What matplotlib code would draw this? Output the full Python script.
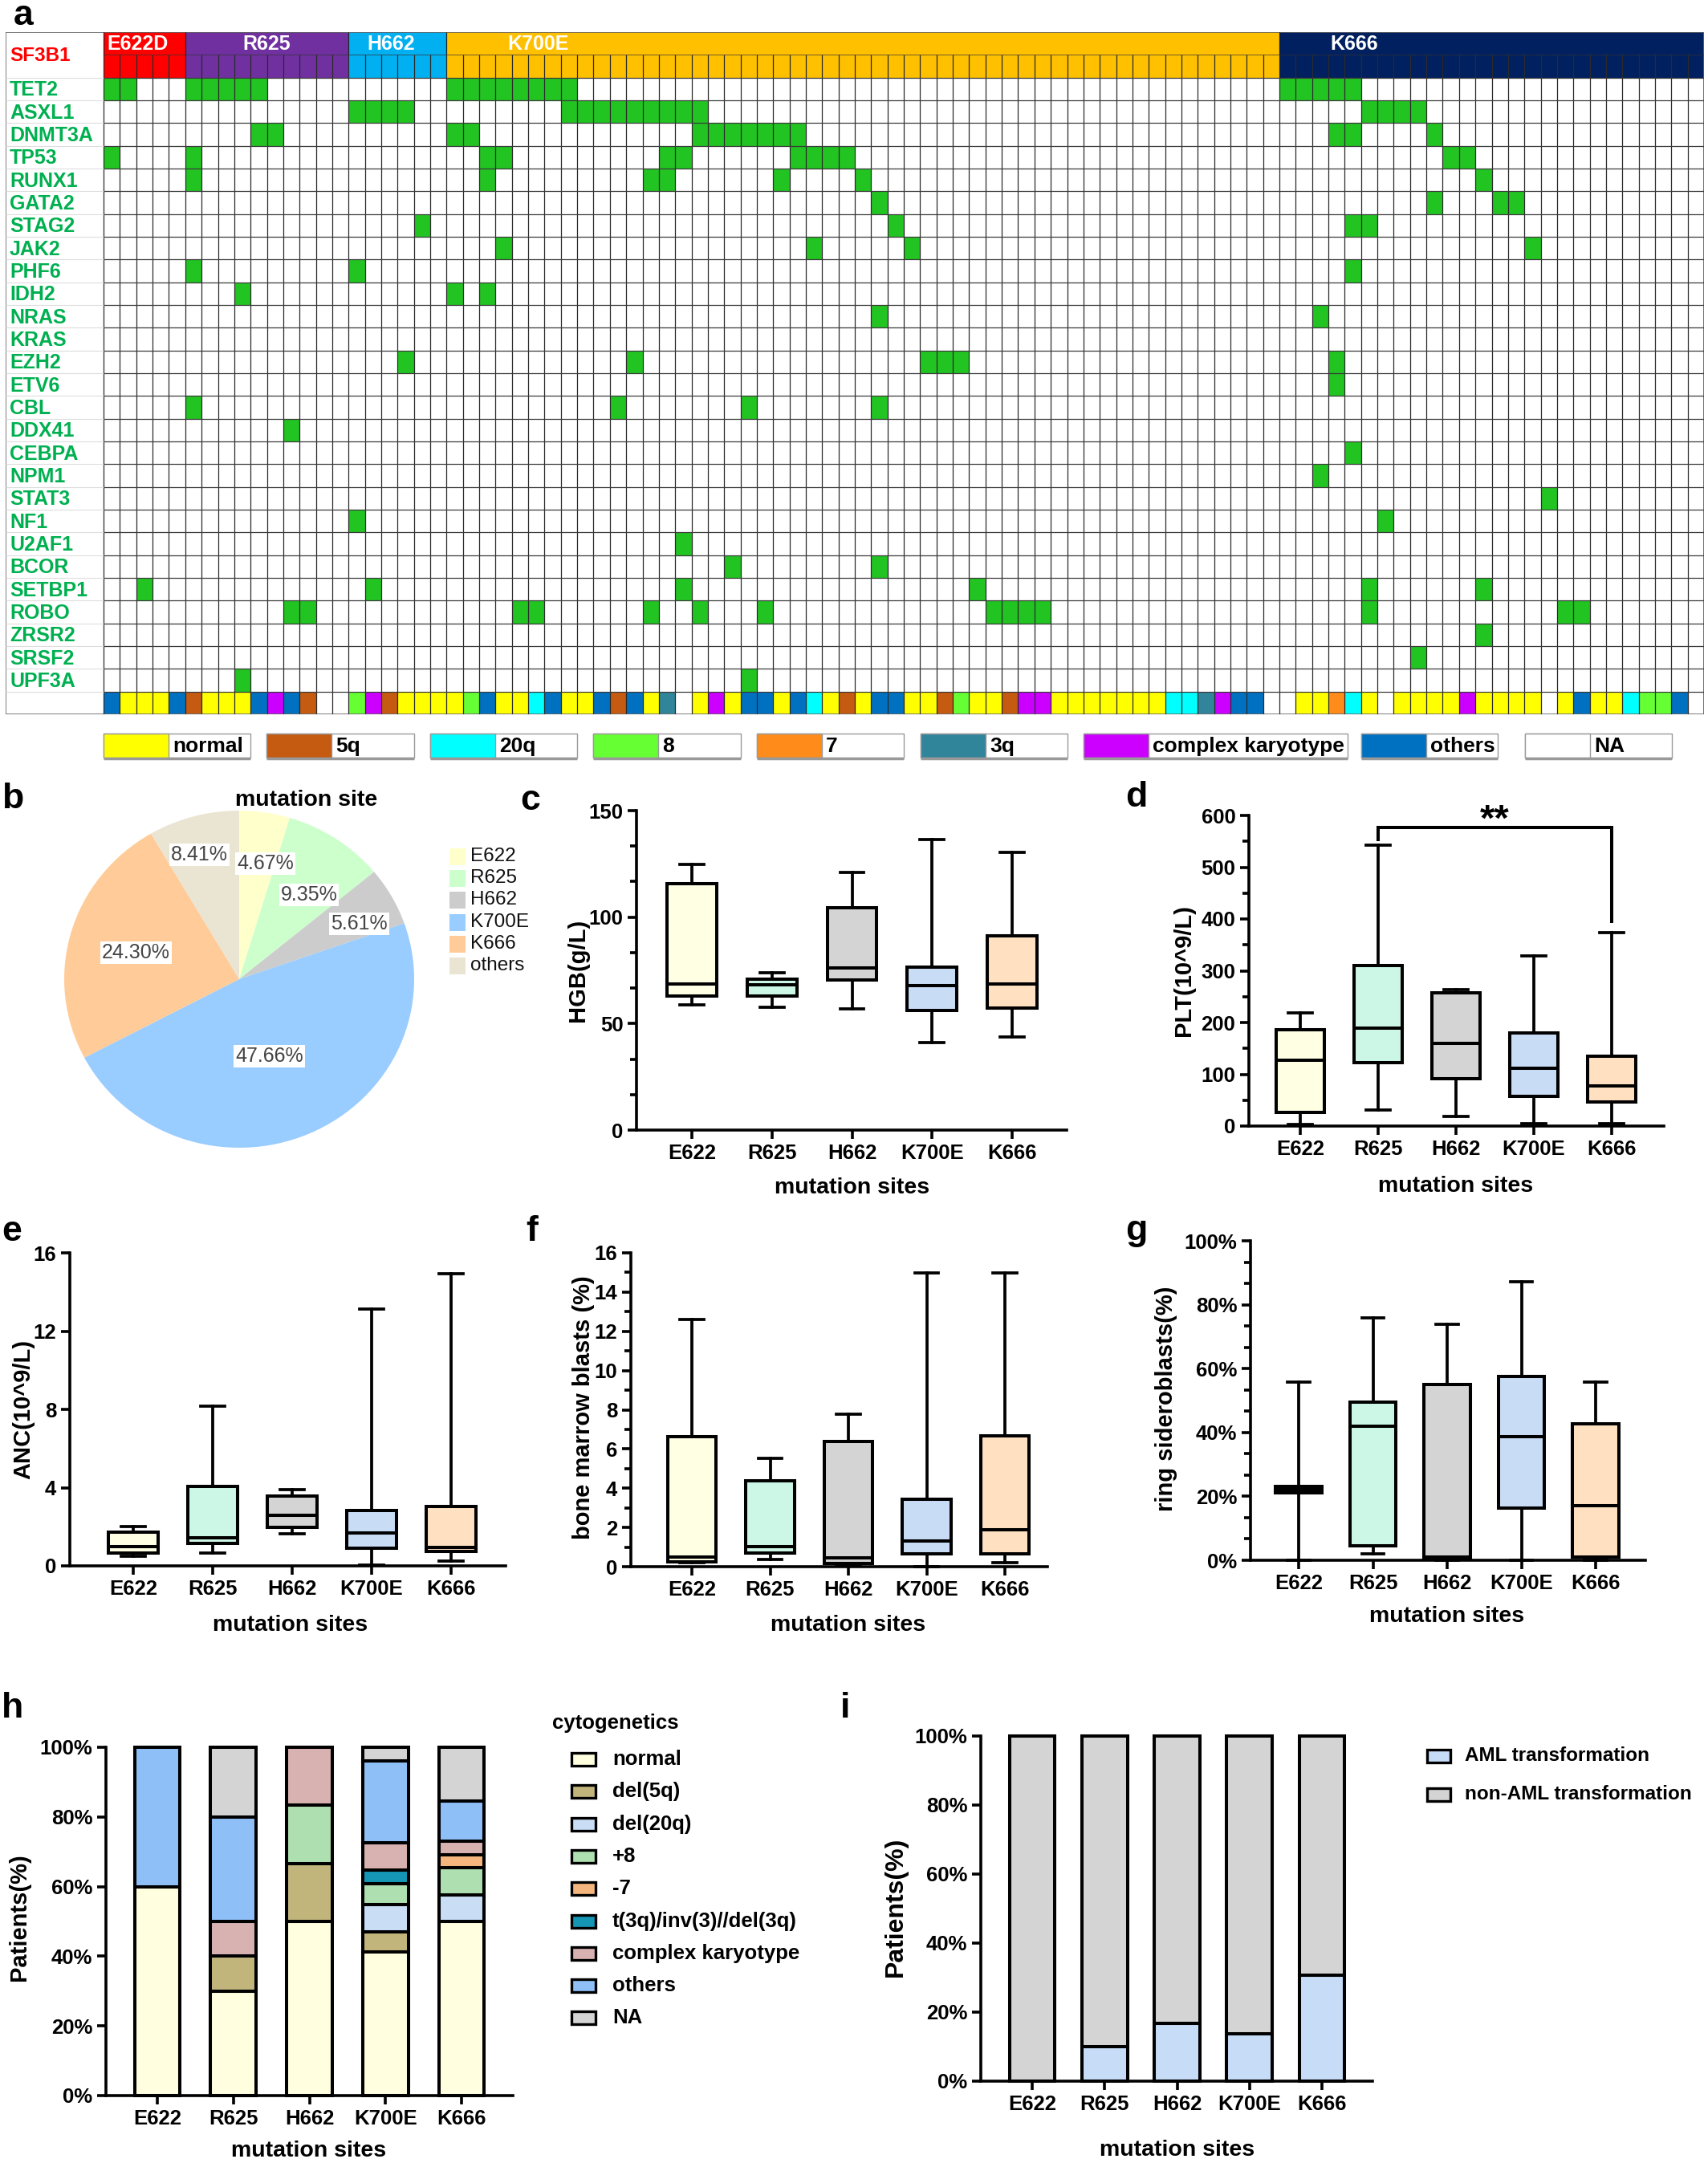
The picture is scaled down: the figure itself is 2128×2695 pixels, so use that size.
import matplotlib
matplotlib.use('Agg')
import matplotlib.pyplot as plt
from matplotlib.patches import Rectangle
from matplotlib.ticker import MultipleLocator, AutoMinorLocator, FuncFormatter
import numpy as np

plt.rcParams['font.family'] = ['Liberation Sans', 'DejaVu Sans']
plt.rcParams['font.weight'] = 'bold'
plt.rcParams['axes.labelweight'] = 'bold'

# ------------------------------------------------------------------ data
groups = ['E622D', 'R625', 'H662', 'K700E', 'K666']
group_sizes = [5, 10, 6, 51, 26]
group_colors = ['#FF0000', '#7030A0', '#00B0F0', '#FFC000', '#002060']
group_label_col = [2.1, 10.0, 17.6, 26.6, 76.6]

genes = ['TET2', 'ASXL1', 'DNMT3A', 'TP53', 'RUNX1', 'GATA2', 'STAG2', 'JAK2',
         'PHF6', 'IDH2', 'NRAS', 'KRAS', 'EZH2', 'ETV6', 'CBL', 'DDX41', 'CEBPA',
         'NPM1', 'STAT3', 'NF1', 'U2AF1', 'BCOR', 'SETBP1', 'ROBO', 'ZRSR2',
         'SRSF2', 'UPF3A']

mutated_patients = {
    'TET2': [0, 1, 5, 6, 7, 8, 9, 21, 22, 23, 24, 25, 26, 27, 28, 72, 73, 74, 75, 76],
    'ASXL1': [15, 16, 17, 18, 28, 29, 30, 31, 32, 33, 34, 35, 36, 77, 78, 79, 80],
    'DNMT3A': [9, 10, 21, 22, 36, 37, 38, 39, 40, 41, 42, 75, 76, 81],
    'TP53': [0, 5, 23, 24, 34, 35, 42, 43, 44, 45, 82, 83],
    'RUNX1': [5, 23, 33, 34, 41, 46, 84],
    'GATA2': [47, 81, 85, 86],
    'STAG2': [19, 48, 76, 77],
    'JAK2': [24, 43, 49, 87],
    'PHF6': [5, 15, 76],
    'IDH2': [8, 21, 23],
    'NRAS': [47, 74],
    'KRAS': [],
    'EZH2': [18, 32, 50, 51, 52, 75],
    'ETV6': [75],
    'CBL': [5, 31, 39, 47],
    'DDX41': [11],
    'CEBPA': [76],
    'NPM1': [74],
    'STAT3': [88],
    'NF1': [15, 78],
    'U2AF1': [35],
    'BCOR': [38, 47],
    'SETBP1': [2, 16, 35, 53, 77, 84],
    'ROBO': [11, 12, 25, 26, 33, 36, 40, 54, 55, 56, 57, 77, 89, 90],
    'ZRSR2': [84],
    'SRSF2': [80],
    'UPF3A': [8, 39],
}

karyotype = [
    # E622D
    'others', 'normal', 'normal', 'normal', 'others',
    # R625
    '5q', 'normal', 'normal', 'normal', 'others', 'complex', 'others', '5q', 'NA', 'NA',
    # H662
    '8', 'complex', '5q', 'normal', 'normal', 'normal',
    # K700E
    'normal', '8', 'others', 'normal', 'normal', '20q', 'others', 'normal', 'normal', 'others',
    '5q', 'others', 'normal', '3q', 'NA', 'normal', 'complex', 'normal', 'others', 'others',
    'normal', 'others', '20q', 'normal', '5q', 'normal', 'others', 'others', 'normal', 'normal',
    '5q', '8', 'normal', 'normal', '5q', 'complex', 'complex', 'normal', 'normal', 'normal',
    'normal', 'normal', 'normal', 'normal', '20q', '20q', '3q', 'complex', 'others', 'others',
    'NA',
    # K666
    'NA', 'normal', 'normal', '7', '20q', 'normal', 'NA', 'normal', 'normal', 'normal',
    'normal', 'complex', 'normal', 'normal', 'normal', 'normal', 'NA', 'normal', 'others', 'normal',
    'normal', '20q', '8', '8', 'others', 'NA',
]
karyo_codes = ['normal', '5q', '20q', '8', '7', '3q', 'complex', 'others', 'NA']
karyo_legend = ['normal', '5q', '20q', '8', '7', '3q', 'complex karyotype', 'others', 'NA']
karyo_colors = ['#FFFF00', '#C55A11', '#00FFFF', '#66FF33', '#FF8C1A', '#31859B',
                '#CC00FF', '#0070C0', '#FFFFFF']

pie_labels = ['E622', 'R625', 'H662', 'K700E', 'K666', 'others']
pie_pct = [4.67, 9.35, 5.61, 47.66, 24.30, 8.41]
pie_colors = ['#FFFFCC', '#CCFFCC', '#CCCCCC', '#99CCFF', '#FFCC99', '#EAE4D3']

sites = ['E622', 'R625', 'H662', 'K700E', 'K666']
site_colors = ['#FFFFE3', '#CCF7E6', '#D4D4D4', '#C8DCF6', '#FFE1C2']

hgb_lo = [58.8, 57.8, 56.9, 41.0, 43.7]
hgb_q1 = [63.0, 63.1, 70.6, 56.1, 57.4]
hgb_med = [68.6, 68.2, 76.0, 67.9, 68.6]
hgb_q3 = [115.7, 71.0, 104.3, 76.4, 91.1]
hgb_hi = [124.7, 73.9, 120.8, 136.5, 130.5]

plt_lo = [3.0, 30.5, 18.3, 4.4, 4.4]
plt_q1 = [26.6, 123.0, 91.5, 58.0, 47.0]
plt_med = [127.5, 188.5, 160.0, 111.0, 77.6]
plt_q3 = [186.0, 310.5, 258.0, 180.0, 135.0]
plt_hi = [219.0, 543.0, 263.0, 328.0, 373.0]

anc_lo = [0.50, 0.65, 1.64, 0.05, 0.25]
anc_q1 = [0.65, 1.16, 1.97, 0.91, 0.73]
anc_med = [0.98, 1.42, 2.60, 1.67, 0.94]
anc_q3 = [1.72, 4.07, 3.58, 2.82, 3.04]
anc_hi = [2.01, 8.16, 3.89, 13.12, 14.93]

bm_lo = [0.20, 0.37, 0.05, 0.0, 0.22]
bm_q1 = [0.25, 0.69, 0.15, 0.66, 0.66]
bm_med = [0.48, 1.02, 0.44, 1.32, 1.87]
bm_q3 = [6.63, 4.39, 6.37, 3.44, 6.66]
bm_hi = [12.59, 5.52, 7.79, 14.98, 14.98]

rs_lo = [0.0, 2.0, 0.0, 0.0, 0.0]
rs_q1 = [21.0, 4.5, 0.5, 16.3, 0.9]
rs_med = [22.0, 41.9, 1.0, 38.8, 17.0]
rs_q3 = [23.0, 49.6, 54.9, 57.5, 42.8]
rs_hi = [55.8, 75.9, 73.8, 87.1, 55.8]

cyto_labels = ['normal', 'del(5q)', 'del(20q)', '+8', '-7', 't(3q)/inv(3)//del(3q)',
               'complex karyotype', 'others', 'NA']
cyto_colors = ['#FFFFE0', '#C2B57C', '#C9DDF5', '#AEDFB0', '#F4B67E', '#1596B4',
               '#D8B1B1', '#8FBFF7', '#D4D4D4']
normal_pct = [60.0, 30.0, 50.0, 41.2, 50.0]
del5q_pct = [0.0, 10.0, 16.7, 5.9, 0.0]
del20q_pct = [0.0, 0.0, 0.0, 7.8, 7.7]
plus8_pct = [0.0, 0.0, 16.7, 5.9, 7.7]
minus7_pct = [0.0, 0.0, 0.0, 0.0, 3.8]
t3q_pct = [0.0, 0.0, 0.0, 3.9, 0.0]
complex_pct = [0.0, 10.0, 16.6, 7.8, 3.8]
others_pct = [40.0, 30.0, 0.0, 23.5, 11.5]
na_pct = [0.0, 20.0, 0.0, 3.9, 15.4]

aml_pct = [0.0, 10.0, 16.7, 13.7, 30.8]
non_aml_pct = [100.0, 90.0, 83.3, 86.3, 69.2]
aml_labels = ['AML transformation', 'non-AML transformation']
aml_colors = ['#C6DCF7', '#D4D4D4']

# ------------------------------------------------------------------ figure
W, H = 2128, 2695
fig = plt.figure(figsize=(W / 100, H / 100), dpi=100)

TICK_FS = 18.5
LABEL_FS = 21
XLABEL_FS = 20.5


def px_ax(l, t, r, b):
    return fig.add_axes([l / W, 1 - b / H, (r - l) / W, (b - t) / H])


# ---------------- panel a : oncoprint
GREEN = '#22C422'
ncol = sum(group_sizes)
ax = px_ax(7, 40, 2123, 890)
ax.set_xlim(-6, ncol)
ax.set_ylim(30, 0)
ax.axis('off')
start = 0
for g, n, c, lx in zip(groups, group_sizes, group_colors, group_label_col):
    ax.add_patch(Rectangle((start, 0), n, 1, fc=c, ec='none'))
    for j in range(start, start + n):
        ax.add_patch(Rectangle((j, 1), 1, 1, fc=c, ec='none'))
    ax.text(lx, 0.52, g, color='white', fontsize=18, fontweight='bold',
            ha='center', va='center')
    ax.vlines(start, 0, 1, colors='#222222', lw=0.9)
    start += n
for gi, gname in enumerate(genes):
    for j in mutated_patients[gname]:
        ax.add_patch(Rectangle((j, gi + 2), 1, 1, fc=GREEN, ec='none'))
for j, k in enumerate(karyotype):
    ax.add_patch(Rectangle((j, 29), 1, 1, fc=karyo_colors[karyo_codes.index(k)], ec='none'))
ax.vlines(np.arange(0, ncol + 1), 1, 30, colors='#2a2a2a', lw=0.9)
ax.hlines(np.arange(2, 30), 0, ncol, colors='#3a3a3a', lw=0.9)
ax.hlines(1, 0, ncol, colors='#333333', lw=0.5)
ax.hlines(np.arange(2, 30), -6, 0, colors='#DDDDDD', lw=0.8)
ax.add_patch(Rectangle((-6, 0), ncol + 6, 30, fill=False, ec='#666666', lw=1.2))
ax.text(-5.75, 1.05, 'SF3B1', color='#FF0000', fontsize=17.5, fontweight='bold',
        ha='left', va='center')
for gi, gname in enumerate(genes):
    ax.text(-5.75, gi + 2.55, gname, color='#00B050', fontsize=18, fontweight='bold',
            ha='left', va='center')

# ---------------- overlay (pixel coordinates) for legends / labels
ov = fig.add_axes([0, 0, 1, 1], zorder=10)
ov.set_xlim(0, W)
ov.set_ylim(H, 0)
ov.axis('off')
ov.patch.set_alpha(0)

leg_x = [129, 332, 536, 739, 943, 1147, 1350, 1696, 1900]
leg_w = [183, 184, 183, 184, 183, 183, 329, 170, 183]
for lab, col, x0, w in zip(karyo_legend, karyo_colors, leg_x, leg_w):
    ov.add_patch(Rectangle((x0, 914), w, 30, fc='white', ec='#9a9a9a', lw=1.0))
    ov.add_patch(Rectangle((x0, 914), 81, 30, fc=col, ec='#9a9a9a', lw=1.0))
    ov.plot([x0, x0 + w], [945, 945], color='#999999', lw=2.5, solid_capstyle='butt')
    clip = Rectangle((x0, 914), w, 30, transform=ov.transData)
    t = ov.text(x0 + 86, 930, lab, fontsize=19, fontweight='bold', color='black',
                ha='left', va='center')
    t.set_clip_path(clip)

# ---------------- panel b : pie
axp = px_ax(80, 1010, 516, 1430)
wedges, texts, autotexts = axp.pie(
    pie_pct, colors=pie_colors, startangle=90, counterclock=False,
    autopct='%.2f%%', pctdistance=0.65,
    wedgeprops=dict(edgecolor='none'),
    textprops=dict(fontsize=18, color='#444444', fontweight='normal'))
axp.set_aspect('auto')
axp.set_xlim(-1, 1)
axp.set_ylim(-1, 1)
label_r = [0.70, 0.64, 0.76, 0.49, 0.61, 0.77]
label_da = [-4, -5, -4, -3, 1, 2]
for w, t, r, da in zip(wedges, autotexts, label_r, label_da):
    ang = np.deg2rad((w.theta1 + w.theta2) / 2 + da)
    t.set_position((r * np.cos(ang), r * np.sin(ang)))
    t.set_bbox(dict(fc='white', ec='none', pad=1.5))
ov.text(382, 997, 'mutation site', fontsize=20.5, fontweight='bold', ha='center', va='center')
for k, (lab, col) in enumerate(zip(pie_labels, pie_colors)):
    yc = 1067 + 27.2 * k
    ov.add_patch(Rectangle((560, yc - 10), 20, 21, fc=col, ec='none'))
    ov.text(586, yc, lab, fontsize=17.5, fontweight='normal', color='#111111',
            ha='left', va='center')


# ---------------- box plot panels
def style_axes(ax, l, r, cat_px, ymax, major, nminor, pct=False):
    s = (cat_px[-1] - cat_px[0]) / 4.0
    ax.set_xlim(1 - (cat_px[0] - l) / s, 5 + (r - cat_px[-1]) / s)
    ax.set_ylim(0, ymax)
    for sp in ['top', 'right']:
        ax.spines[sp].set_visible(False)
    for sp in ['left', 'bottom']:
        ax.spines[sp].set_linewidth(2.6)
    ax.set_xticks(range(1, 6))
    ax.set_xticklabels(sites)
    ax.yaxis.set_major_locator(MultipleLocator(major))
    if nminor > 1:
        ax.yaxis.set_minor_locator(AutoMinorLocator(nminor))
    ax.tick_params(axis='both', which='major', length=8, width=2.6, labelsize=TICK_FS, pad=4)
    ax.tick_params(axis='y', which='minor', length=6, width=2.6)
    if pct:
        ax.yaxis.set_major_formatter(FuncFormatter(lambda v, p: f'{v:.0f}%'))


def box_panel(box, cat_px, lo, q1, med, q3, hi, ymax, major, nminor, pct=False):
    l, t, r, b = box
    ax = px_ax(l, t, r, b)
    stats = [dict(whislo=a, q1=b_, med=c, q3=d, whishi=e, fliers=[])
             for a, b_, c, d, e in zip(lo, q1, med, q3, hi)]
    bp = ax.bxp(stats, positions=range(1, 6), widths=0.62, patch_artist=True,
                showfliers=False, manage_ticks=False, capwidths=0.3,
                boxprops=dict(linewidth=2.9, edgecolor='black'),
                medianprops=dict(linewidth=2.9, color='black'),
                whiskerprops=dict(linewidth=2.7, color='black'),
                capprops=dict(linewidth=2.7, color='black'))
    for patch, col in zip(bp['boxes'], site_colors):
        patch.set_facecolor(col)
    for key in ['boxes', 'medians', 'whiskers', 'caps']:
        for art in bp[key]:
            art.set_clip_on(False)
    style_axes(ax, l, r, cat_px, ymax, major, nminor, pct)
    return ax


box_panel((793, 1010, 1329, 1408), [862, 962, 1061, 1161, 1261],
          hgb_lo, hgb_q1, hgb_med, hgb_q3, hgb_hi, 150, 50, 3)
axd = box_panel((1556, 1016, 2073, 1403), [1620, 1717, 1814, 1911, 2008],
                plt_lo, plt_q1, plt_med, plt_q3, plt_hi, 600, 100, 2)
axd.plot([2, 2, 5, 5], [553, 577, 577, 395], color='black', lw=2.9, clip_on=False,
         solid_joinstyle='miter')
axd.text(3.5, 589, '**', fontsize=34, fontweight='bold', ha='center', va='center',
         clip_on=False)
box_panel((87, 1561, 630, 1951), [166, 263, 362, 461, 562],
          anc_lo, anc_q1, anc_med, anc_q3, anc_hi, 16, 4, 1)
box_panel((786, 1561, 1305, 1952), [862, 960, 1057, 1155, 1252],
          bm_lo, bm_q1, bm_med, bm_q3, bm_hi, 16, 2, 2)
box_panel((1558, 1546, 2050, 1944), [1618, 1711, 1803, 1896, 1988],
          rs_lo, rs_q1, rs_med, rs_q3, rs_hi, 100, 20, 3, pct=True)

# ---------------- panel h : stacked cytogenetics bars
hl, ht, hr, hb = 132, 2177, 639, 2611
axh = px_ax(hl, ht, hr, hb)
cyto_series = [normal_pct, del5q_pct, del20q_pct, plus8_pct, minus7_pct, t3q_pct,
               complex_pct, others_pct, na_pct]
bottom = np.zeros(5)
xpos = np.arange(1, 6)
for vals, col in zip(cyto_series, cyto_colors):
    vals = np.array(vals)
    m = vals > 0
    axh.bar(xpos[m], vals[m], bottom=bottom[m], width=0.6, color=col,
            edgecolor='black', linewidth=2.9, clip_on=False)
    bottom += vals
style_axes(axh, hl, hr, [196, 291, 385, 480, 575], 100, 20, 1, pct=True)

# ---------------- panel i : AML transformation
il, it, ir, ib = 1222, 2163, 1710, 2593
axi = px_ax(il, it, ir, ib)
aml = np.array(aml_pct)
m = aml > 0
axi.bar(xpos[m], aml[m], width=0.63, color=aml_colors[0], edgecolor='black',
        linewidth=2.9, clip_on=False)
axi.bar(xpos, non_aml_pct, bottom=aml, width=0.63, color=aml_colors[1],
        edgecolor='black', linewidth=2.9, clip_on=False)
style_axes(axi, il, ir, [1286, 1376, 1467, 1558, 1647], 100, 20, 1, pct=True)

# legends h / i
ov.text(688, 2147, 'cytogenetics', fontsize=18.5, fontweight='bold', ha='left', va='center')
for k, (lab, col) in enumerate(zip(cyto_labels, cyto_colors)):
    yc = 2192 + 40.3 * k
    ov.add_patch(Rectangle((712, yc - 8), 30, 16, fc=col, ec='black', lw=2.4))
    ov.text(763, yc, lab, fontsize=18.5, fontweight='bold', ha='left', va='center')
for k, (lab, col) in enumerate(zip(aml_labels, aml_colors)):
    yc = 2188 + 48 * k
    ov.add_patch(Rectangle((1778, yc - 8), 29, 16, fc=col, ec='black', lw=2.4))
    ov.text(1825, yc, lab, fontsize=17.5, fontweight='bold', ha='left', va='center')

# axis labels
ylabels = [(720, 1209, 'HGB(g/L)', LABEL_FS), (1475, 1209, 'PLT(10^9/L)', LABEL_FS),
           (29, 1756, 'ANC(10^9/L)', LABEL_FS), (727, 1754, 'bone marrow blasts (%)', LABEL_FS),
           (1453, 1743, 'ring sideroblasts(%)', LABEL_FS), (24, 2389, 'Patients(%)', LABEL_FS),
           (1116, 2376, 'Patients(%)', 23)]
for x, y, s, fs in ylabels:
    ov.text(x, y, s, fontsize=fs, fontweight='bold', rotation=90, ha='center', va='center')
xlabels = [(1062, 1480), (1814, 1478), (362, 2025), (1057, 2025), (1803, 2014),
           (385, 2680), (1467, 2679)]
for x, y in xlabels:
    ov.text(x, y, 'mutation sites', fontsize=XLABEL_FS, fontweight='bold',
            ha='center', va='center')

letters = [('a', 17, 31), ('b', 2, 1007), ('c', 648, 1009), ('d', 1402, 1005),
           ('e', 2, 1546), ('f', 655, 1546), ('g', 1402, 1545), ('h', 2, 2140),
           ('i', 1047, 2140)]
for s, x, y in letters:
    ov.text(x, y, s, fontsize=32, fontweight='bold', ha='left', va='baseline')

fig.savefig('out.png', dpi=100)
